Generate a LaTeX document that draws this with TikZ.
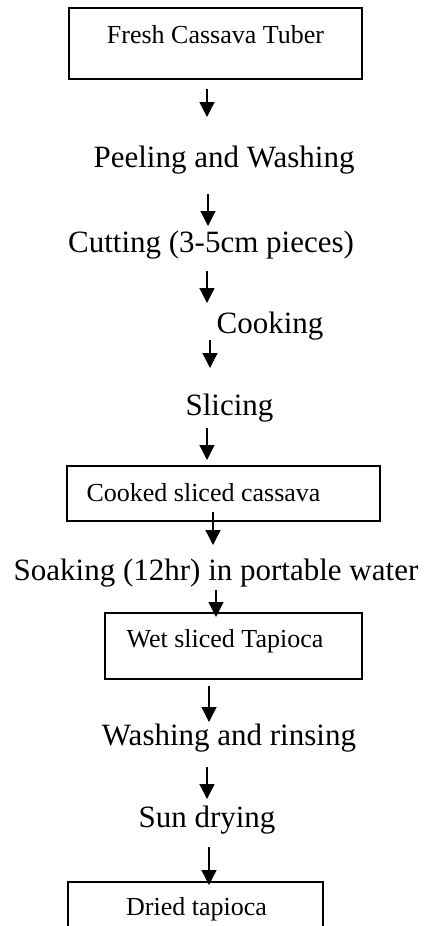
\documentclass[tikz,border=0pt]{standalone}
\usepackage{fontspec}
\setmainfont{Liberation Serif}
\usetikzlibrary{arrows.meta}
\begin{document}
\begin{tikzpicture}[x=1pt,y=1pt,
  big/.style={inner sep=0pt,anchor=base,font=\fontsize{31}{36}\selectfont},
  small/.style={inner sep=0pt,anchor=base,font=\fontsize{26}{31}\selectfont},
  boxshape/.style={draw,line width=1.3pt,inner sep=0pt,rectangle},
  flow/.style={line width=1.3pt,-{Triangle[length=15pt,width=15pt]}}]
\useasboundingbox (0,0) rectangle (423,-926);
\clip (0,0) rectangle (423,-926);
% boxes
\node[boxshape,minimum width=293pt,minimum height=71pt] (b1) at (215.5,-43.5) {};
\node[boxshape,minimum width=313pt,minimum height=55pt] (b2) at (223.5,-493.5) {};
\node[boxshape,minimum width=257pt,minimum height=66pt] (b3) at (233.5,-646) {};
\node[boxshape,minimum width=255pt,minimum height=80pt] (b4) at (195.5,-922) {};
% texts
\node[small] (t1) at (215.5,-43) {Fresh Cassava Tuber};
\node[big] (t2) at (224,-167) {Peeling and Washing};
\node[big] (t3) at (211,-252) {Cutting (3-5cm pieces)};
\node[big] (t4) at (270,-333) {Cooking};
\node[big] (t5) at (229.5,-415) {Slicing};
\node[small] (t6) at (203.5,-501) {Cooked sliced cassava};
\node[big] (t7) at (216,-580) {Soaking (12hr) in portable water};
\node[small] (t8) at (225,-647) {Wet sliced Tapioca};
\node[big] (t9) at (229,-745) {Washing and rinsing};
\node[big] (t10) at (207,-827) {Sun drying};
\node[small] (t11) at (196.5,-915) {Dried tapioca};
% arrow end points
\coordinate (a1s) at (207,-89);  \coordinate (a1e) at (207,-117);
\coordinate (a2s) at (208,-194); \coordinate (a2e) at (208,-226);
\coordinate (a3s) at (207,-271); \coordinate (a3e) at (207,-303);
\coordinate (a4s) at (210,-340); \coordinate (a4e) at (210,-368);
\coordinate (a5s) at (207,-428); \coordinate (a5e) at (207,-460);
\coordinate (a6s) at (213,-512); \coordinate (a6e) at (213,-545);
\coordinate (a7s) at (216,-590); \coordinate (a7e) at (216,-617);
\coordinate (a8s) at (209,-686); \coordinate (a8e) at (209,-722);
\coordinate (a9s) at (207,-767); \coordinate (a9e) at (207,-799);
\coordinate (a10s) at (209,-847); \coordinate (a10e) at (209,-885);
\foreach \i in {1,...,10} {\draw[flow] (a\i s) -- (a\i e);}
\end{tikzpicture}
\end{document}
